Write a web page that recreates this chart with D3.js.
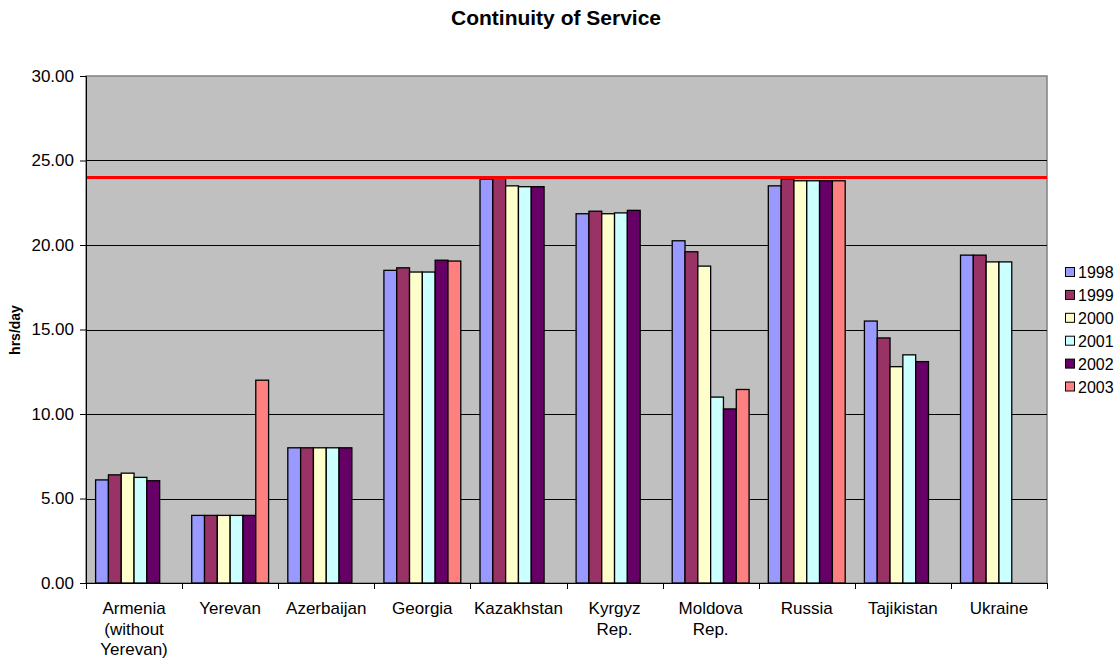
<!DOCTYPE html>
<html lang="en">
<head>
    <meta charset="UTF-8">
    <script src="https://cdn.jsdelivr.net/npm/d3@7"></script>
    <title>Continuity of Service</title>
    <style>
        body { margin: 0; background: #fff; }
        text { font-family: "Liberation Sans", Arial, sans-serif; }
    </style>
</head>
<body>
    <script>
        const w = 1116;
        const h = 660;

        const countries = [
            ["Armenia", "(without", "Yerevan)"],
            ["Yerevan"],
            ["Azerbaijan"],
            ["Georgia"],
            ["Kazakhstan"],
            ["Kyrgyz", "Rep."],
            ["Moldova", "Rep."],
            ["Russia"],
            ["Tajikistan"],
            ["Ukraine"]
        ];
        const years = ["1998", "1999", "2000", "2001", "2002", "2003"];
        const colors = ["#9999FF", "#993366", "#FFFFCC", "#CCFFFF", "#660066", "#FF8080"];

        // one array per year, one value per country (null = no data)
        const v1998 = [6.1, 4.0, 8.0, 18.5, 23.9, 21.85, 20.25, 23.5, 15.5, 19.4];
        const v1999 = [6.4, 4.0, 8.0, 18.65, 24.0, 22.0, 19.6, 23.9, 14.5, 19.4];
        const v2000 = [6.5, 4.0, 8.0, 18.4, 23.5, 21.85, 18.75, 23.8, 12.8, 19.0];
        const v2001 = [6.25, 4.0, 8.0, 18.4, 23.45, 21.9, 11.0, 23.8, 13.5, 19.0];
        const v2002 = [6.05, 4.0, 8.0, 19.1, 23.45, 22.05, 10.3, 23.8, 13.1, null];
        const v2003 = [null, 12.0, null, 19.05, null, null, 11.45, 23.8, null, null];
        const series = [v1998, v1999, v2000, v2001, v2002, v2003];

        const yTicks = [0, 5, 10, 15, 20, 25, 30];
        const target = 24;

        const plot = { left: 86, right: 1047, top: 76, bottom: 583 };

        const svg = d3.select("body")
            .append("svg")
            .attr("width", w)
            .attr("height", h);

        const x0 = d3.scaleBand()
            .domain(d3.range(countries.length))
            .range([plot.left, plot.right])
            .paddingInner(0.2)
            .paddingOuter(0.1);

        const x1 = d3.scaleBand()
            .domain(years)
            .range([0, x0.bandwidth()]);

        const y = d3.scaleLinear()
            .domain([0, 30])
            .range([plot.bottom, plot.top]);

        // plot background
        svg.append("rect")
            .attr("x", plot.left)
            .attr("y", plot.top)
            .attr("width", plot.right - plot.left)
            .attr("height", plot.bottom - plot.top)
            .attr("fill", "#C0C0C0")
            .attr("stroke", "#808080")
            .attr("stroke-width", 1.5);

        // gridlines
        svg.append("g")
            .selectAll("line")
            .data(yTicks.slice(1, -1))
            .enter()
            .append("line")
            .attr("x1", plot.left)
            .attr("x2", plot.right)
            .attr("y1", d => Math.round(y(d)) + 0.5)
            .attr("y2", d => Math.round(y(d)) + 0.5)
            .attr("stroke", "#000")
            .attr("stroke-width", 1);

        // bars
        const groups = svg.append("g")
            .selectAll("g")
            .data(series)
            .enter()
            .append("g")
            .attr("fill", (d, i) => colors[i]);

        groups.selectAll("rect")
            .data((d, i) => d.map((v, c) => ({ v: v, c: c, year: years[i] })).filter(e => e.v !== null))
            .enter()
            .append("rect")
            .attr("x", d => x0(d.c) + x1(d.year))
            .attr("width", x1.bandwidth())
            .attr("y", d => y(d.v))
            .attr("height", d => y(0) - y(d.v))
            .attr("stroke", "#000")
            .attr("stroke-width", 1.3);

        // target line
        svg.append("line")
            .attr("x1", plot.left)
            .attr("x2", plot.right)
            .attr("y1", y(target))
            .attr("y2", y(target))
            .attr("stroke", "#FF0000")
            .attr("stroke-width", 3);

        // y axis
        const yAxis = d3.axisLeft(y)
            .tickValues(yTicks)
            .tickFormat(d3.format(".2f"))
            .tickSize(6)
            .tickPadding(6);

        const yG = svg.append("g")
            .attr("transform", "translate(" + plot.left + ",0)")
            .call(yAxis);
        yG.select(".domain").attr("stroke", "#000");
        yG.selectAll("text").attr("font-size", 17).attr("fill", "#000")
            .style("font-family", "'Liberation Sans', Arial, sans-serif");

        // x axis
        const xAxisLine = svg.append("g");
        xAxisLine.append("line")
            .attr("x1", plot.left)
            .attr("x2", plot.right)
            .attr("y1", plot.bottom + 0.5)
            .attr("y2", plot.bottom + 0.5)
            .attr("stroke", "#000");
        xAxisLine.selectAll(".tick")
            .data(d3.range(countries.length + 1))
            .enter()
            .append("line")
            .attr("x1", i => Math.round(plot.left + i * x0.step()) + 0.5)
            .attr("x2", i => Math.round(plot.left + i * x0.step()) + 0.5)
            .attr("y1", plot.bottom)
            .attr("y2", plot.bottom + 6)
            .attr("stroke", "#000");

        const labels = svg.append("g")
            .selectAll("text")
            .data(countries)
            .enter()
            .append("text")
            .attr("x", (d, i) => x0(i) + x0.bandwidth() / 2)
            .attr("y", 614)
            .attr("text-anchor", "middle")
            .attr("font-size", 17)
            .attr("fill", "#000");
        labels.selectAll("tspan")
            .data(d => d)
            .enter()
            .append("tspan")
            .attr("x", function() { return d3.select(this.parentNode).attr("x"); })
            .attr("dy", (d, i) => i === 0 ? 0 : 20.5)
            .text(d => d);

        // title
        svg.append("text")
            .attr("x", 556)
            .attr("y", 25)
            .attr("text-anchor", "middle")
            .attr("font-size", 21)
            .attr("font-weight", "bold")
            .text("Continuity of Service");

        // y label
        svg.append("text")
            .attr("transform", "translate(20,330) rotate(-90)")
            .attr("text-anchor", "middle")
            .attr("font-size", 14)
            .attr("font-weight", "bold")
            .text("hrs/day");

        // legend
        const legend = svg.append("g")
            .attr("transform", "translate(1065,272)");
        const items = legend.selectAll("g")
            .data(years)
            .enter()
            .append("g")
            .attr("transform", (d, i) => "translate(0," + (i * 22.9) + ")");
        items.append("rect")
            .attr("x", 0.5)
            .attr("y", -4.5)
            .attr("width", 9)
            .attr("height", 9)
            .attr("fill", (d, i) => colors[i])
            .attr("stroke", "#000");
        items.append("text")
            .attr("x", 13)
            .attr("y", 6)
            .attr("font-size", 16)
            .text(d => d);
    </script>
</body>
</html>
